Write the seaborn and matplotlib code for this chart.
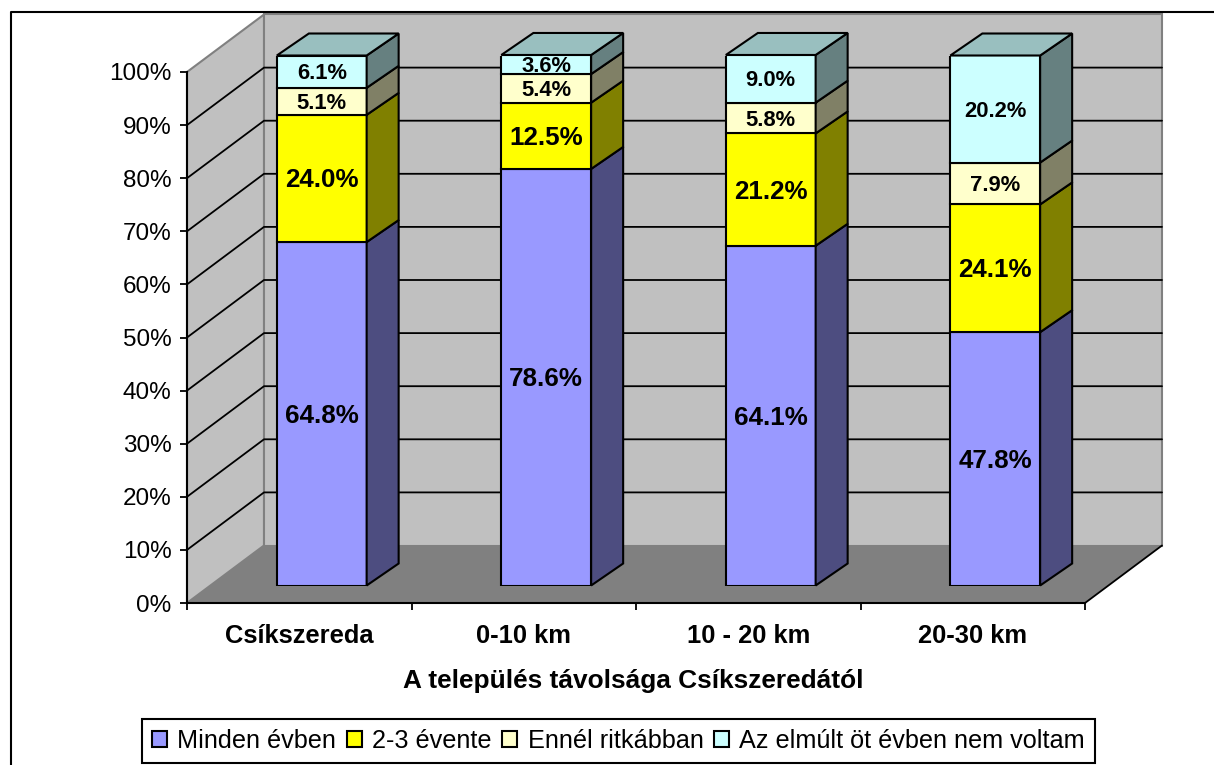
import numpy as np
import pandas as pd
import matplotlib
matplotlib.use('Agg')
import matplotlib.pyplot as plt
from matplotlib.lines import Line2D
from matplotlib.transforms import ScaledTranslation
import seaborn as sns

categories = ['Csíkszereda', '0-10 km', '10 - 20 km', '20-30 km']
series_names = ['Minden évben', '2-3 évente', 'Ennél ritkábban', 'Az elmúlt öt évben nem voltam']
minden_evben = [64.8, 78.6, 64.1, 47.8]
ket_harom_evente = [24.0, 12.5, 21.2, 24.1]
ritkabban = [5.1, 5.4, 5.8, 7.9]
nem_voltam = [6.1, 3.6, 9.0, 20.2]
y_ticks = [0, 10, 20, 30, 40, 50, 60, 70, 80, 90, 100]
x_title = 'A település távolsága Csíkszeredától'

front_colors = ['#9999FF', '#FFFF00', '#FFFFCC', '#CCFFFF']
side_colors = ['#4D4D80', '#808000', '#808066', '#668080']
top_color = '#99BFBF'
label_sizes = [18.7, 18.7, 15.8, 15.8]

sns.set_theme(style='ticks')
plt.rcParams['font.family'] = ['Liberation Sans', 'DejaVu Sans']

W, H = 1214, 765
fig = plt.figure(figsize=(W / 100, H / 100), dpi=100, facecolor='white')


def axes_px(left, right, top, bottom):
    return [left / W, 1 - bottom / H, (right - left) / W, (bottom - top) / H]


# elso sik: tengelyek, falak, padlo
ax = fig.add_axes(axes_px(187, 1085, 72, 603))
ax.patch.set_visible(False)
ax.set_xlim(-0.5, 3.5)
ax.set_ylim(0, 100)

x_px = 898 / 4
y_px = 531 / 100
wall_dx = 77 / x_px
wall_dy = 57.5 / y_px
x0, x1 = -0.5, 3.5
gray = '#808080'

ax.fill([x0, x0 + wall_dx, x1 + wall_dx, x1], [0, wall_dy, wall_dy, 0],
        color=gray, ec='none', clip_on=False, zorder=1)
ax.fill([x0, x0 + wall_dx, x0 + wall_dx, x0], [0, wall_dy, 100 + wall_dy, 100],
        fc='#C0C0C0', ec=gray, lw=1.5, clip_on=False, zorder=1)
ax.fill([x0 + wall_dx, x1 + wall_dx, x1 + wall_dx, x0 + wall_dx],
        [wall_dy, wall_dy, 100 + wall_dy, 100 + wall_dy],
        fc='#C0C0C0', ec=gray, lw=1.5, clip_on=False, zorder=1)

for v in y_ticks[1:-1]:
    ax.plot([x0, x0 + wall_dx, x1 + wall_dx], [v, v + wall_dy, v + wall_dy],
            color='black', lw=1.3, clip_on=False, zorder=2)
ax.plot([x1, x1 + wall_dx], [0, wall_dy], color='black', lw=1.3, clip_on=False, zorder=2)

ax.set_yticks(y_ticks)
ax.set_yticklabels([f'{v}%' for v in y_ticks], fontsize=17.5, color='black')
ax.set_xticks([-0.5, 0.5, 1.5, 2.5, 3.5])
ax.set_xticklabels([])
ax.set_xticks(range(4), minor=True)
ax.set_xticklabels(categories, minor=True, fontsize=18.4, fontweight='bold', color='black')
ax.tick_params(axis='x', which='major', length=5, width=1.3, color='black')
ax.tick_params(axis='x', which='minor', length=0, pad=15)
ax.tick_params(axis='y', length=5, width=1.3, color='black', pad=6)
ax.set_xlabel(x_title, fontsize=18.9, fontweight='bold', color='black', labelpad=15)
ax.xaxis.label.set_x((633 - 187) / 898)
for name in ['top', 'right']:
    ax.spines[name].set_visible(False)
for name in ['left', 'bottom']:
    ax.spines[name].set_linewidth(1.5)
    ax.spines[name].set_color('black')
    ax.spines[name].set_zorder(3)

# oszlopok sikja, kicsit beljebb a padlon
ax_bars = fig.add_axes(axes_px(209.5, 1107.5, 55.5, 585.5))
ax_bars.patch.set_visible(False)

bar_width = 0.4
depth_x = 32 / x_px
depth_y = 22 / 5.3
series = [minden_evben, ket_harom_evente, ritkabban, nem_voltam]

# a szoveg kicsit lejjebb kerul, mint a kozep
label_shift = ax_bars.transData + ScaledTranslation(0, -2 / 100, fig.dpi_scale_trans)

bottom = np.zeros(4)
for i, vals in enumerate(series):
    df = pd.DataFrame({'kat': categories, 'ertek': vals})
    sns.barplot(data=df, x='kat', y='ertek', bottom=bottom, color=front_colors[i], saturation=1,
                width=bar_width, edgecolor='black', linewidth=1.5, label=series_names[i], ax=ax_bars)
    for c in range(4):
        xr = c + bar_width / 2
        ax_bars.fill([xr, xr + depth_x, xr + depth_x, xr],
                     [bottom[c], bottom[c] + depth_y, bottom[c] + vals[c] + depth_y, bottom[c] + vals[c]],
                     fc=side_colors[i], ec='black', lw=1.5, clip_on=False)
        ax_bars.text(c, bottom[c] + vals[c] / 2, f'{vals[c]:.1f}%', ha='center', va='center',
                     fontsize=label_sizes[i], fontweight='bold', color='black', transform=label_shift)
    bottom = bottom + np.array(vals)

for c in range(4):
    xl, xr = c - bar_width / 2, c + bar_width / 2
    ax_bars.fill([xl, xl + depth_x, xr + depth_x, xr],
                 [bottom[c], bottom[c] + depth_y, bottom[c] + depth_y, bottom[c]],
                 fc=top_color, ec='black', lw=1.5, clip_on=False)

ax_bars.set_xlim(-0.5, 3.5)
ax_bars.set_ylim(0, 100)

handles, labels = ax_bars.get_legend_handles_labels()
ax_bars.get_legend().remove()
leg = fig.legend(handles, labels, loc='center', bbox_to_anchor=(618.5 / W, 1 - 741 / H), ncol=4,
                 fontsize=18.2, frameon=True, fancybox=False, framealpha=1, edgecolor='black',
                 handlelength=0.6, handleheight=0.6, handletextpad=0.4, columnspacing=0.42,
                 borderpad=0.4, borderaxespad=0, labelcolor='black')
leg.get_frame().set_linewidth(1.5)
ax_bars.set_axis_off()

# kulso keret, a kep szelen levagva
fig.add_artist(Line2D([11 / W, 11 / W, 1], [0, 1 - 12 / H, 1 - 12 / H], color='black', lw=1.5))

fig.savefig('out.png', dpi=100)
